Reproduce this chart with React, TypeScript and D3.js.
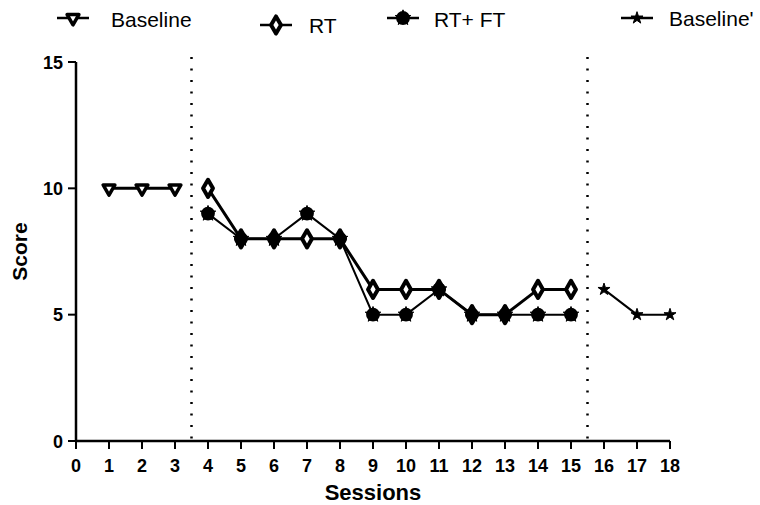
import React from 'react';
import * as d3 from 'd3';

const baselineX = [1, 2, 3];
const baselineY = [10, 10, 10];
const rtX = [4, 5, 6, 7, 8, 9, 10, 11, 12, 13, 14, 15];
const rtY = [10, 8, 8, 8, 8, 6, 6, 6, 5, 5, 6, 6];
const rtftX = [4, 5, 6, 7, 8, 9, 10, 11, 12, 13, 14, 15];
const rtftY = [9, 8, 8, 9, 8, 5, 5, 6, 5, 5, 5, 5];
const baseline2X = [16, 17, 18];
const baseline2Y = [6, 5, 5];
const xTicks = d3.range(0, 19);
const yTicks = [0, 5, 10, 15];
const phaseLines = [3.5, 15.5];

const x = d3.scaleLinear().domain([0, 18]).range([76, 670]);
const y = d3.scaleLinear().domain([0, 15]).range([441, 62]);

const zip = (xs: number[], ys: number[]) => xs.map((v, i) => [v, ys[i]] as [number, number]);
const line = d3.line<[number, number]>().x(d => x(d[0])).y(d => y(d[1]));

const triDown = d3.symbol().type(d3.symbolTriangle).size(60)();
const diamond = d3.symbol().type(d3.symbolDiamond).size(85)();
const circle = d3.symbol().type(d3.symbolCircle).size(150)();
const blob = d3.symbol().type(d3.symbolStar).size(75)();
const star = d3.symbol().type(d3.symbolStar).size(45)();

const font = 'Liberation Sans, Arial, sans-serif';

function Marker({ kind, cx, cy }: { kind: string; cx: number; cy: number }) {
  const t = `translate(${cx},${cy})`;
  if (kind === 'tri')
    return <path d={triDown!} transform={`${t} rotate(180)`} fill="white" stroke="black" strokeWidth={3.5} strokeLinejoin="round" />;
  if (kind === 'dia')
    return <path d={diamond!} transform={t} fill="white" stroke="black" strokeWidth={4} strokeLinejoin="round" />;
  if (kind === 'dot')
    return (
      <g transform={t}>
        <path d={circle!} fill="black" />
        <path d={blob!} fill="black" stroke="black" strokeWidth={1} />
      </g>
    );
  return <path d={star!} transform={t} fill="black" stroke="black" strokeWidth={1} />;
}

export default function App() {
  const series = [
    { pts: zip(baselineX, baselineY), kind: 'tri', w: 3 },
    { pts: zip(rtX, rtY), kind: 'dia', w: 3 },
    { pts: zip(rtftX, rtftY), kind: 'dot', w: 2 },
    { pts: zip(baseline2X, baseline2Y), kind: 'star', w: 2 },
  ];
  const legend = [
    { kind: 'tri', label: 'Baseline', mx: 73, tx: 111, yy: 18, ty: 27 },
    { kind: 'dia', label: 'RT', mx: 276, tx: 309, yy: 25, ty: 33 },
    { kind: 'dot', label: 'RT+ FT', mx: 403, tx: 434, yy: 18, ty: 27 },
    { kind: 'star', label: "Baseline'", mx: 637, tx: 669, yy: 18, ty: 26 },
  ];
  return (
    <svg width={760} height={505} style={{ position: 'absolute', left: 0, top: 0, background: 'white' }}>
      {/* legend */}
      {legend.map(l => (
        <g key={l.label}>
          <line x1={l.mx - 16} x2={l.mx + 16} y1={l.yy} y2={l.yy} stroke="black" strokeWidth={2.5} />
          <Marker kind={l.kind} cx={l.mx} cy={l.yy} />
          <text x={l.tx} y={l.ty} fontFamily={font} fontSize={21}>{l.label}</text>
        </g>
      ))}

      {/* phase lines */}
      {phaseLines.map(p => (
        <line key={p} x1={x(p)} x2={x(p)} y1={57} y2={441} stroke="black" strokeWidth={2.5} strokeDasharray="2,9.5" />
      ))}

      {/* axes */}
      <line x1={x(0)} x2={x(0)} y1={y(15)} y2={y(0) + 1} stroke="black" strokeWidth={2.5} />
      <line x1={x(0) - 1} x2={x(18)} y1={y(0)} y2={y(0)} stroke="black" strokeWidth={2.5} />
      {yTicks.map(t => (
        <g key={t}>
          <line x1={x(0) - 8} x2={x(0)} y1={y(t)} y2={y(t)} stroke="black" strokeWidth={2} />
          <text x={x(0) - 13} y={y(t) + 6.5} textAnchor="end" fontFamily={font} fontWeight="bold" fontSize={18}>{t}</text>
        </g>
      ))}
      {xTicks.map(t => (
        <g key={t}>
          <line x1={x(t)} x2={x(t)} y1={y(0)} y2={y(0) + 8} stroke="black" strokeWidth={2} />
          <text x={x(t)} y={472} textAnchor="middle" fontFamily={font} fontWeight="bold" fontSize={18}>{t}</text>
        </g>
      ))}
      <text x={373} y={500} textAnchor="middle" fontFamily={font} fontWeight="bold" fontSize={22}>Sessions</text>
      <text transform={`translate(27,${y(7.5)}) rotate(-90)`} textAnchor="middle" fontFamily={font} fontWeight="bold" fontSize={21}>Score</text>

      {/* data */}
      {series.map((s, i) => (
        <path key={'l' + i} d={line(s.pts)!} fill="none" stroke="black" strokeWidth={s.w} />
      ))}
      {series.map((s, i) => (
        <g key={'m' + i}>
          {s.pts.map((p, j) => (
            <Marker key={j} kind={s.kind} cx={x(p[0])} cy={y(p[1])} />
          ))}
        </g>
      ))}
    </svg>
  );
}
